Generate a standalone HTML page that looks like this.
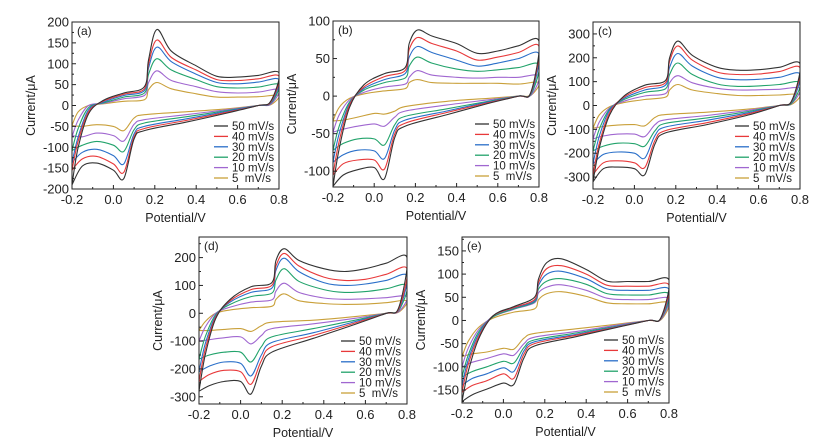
<!DOCTYPE html>
<html><head><meta charset="utf-8"><style>
html,body{margin:0;padding:0;background:#fff}
svg{display:block;font-family:"Liberation Sans",Arial,sans-serif}
</style></head><body>
<svg id="chart" width="832" height="446" viewBox="0 0 832 446" xmlns="http://www.w3.org/2000/svg"></svg>
<script>
const speeds = ["50 mV/s","40 mV/s","30 mV/s","20 mV/s","10 mV/s","5\u00a0 mV/s"];
const colors = ["#333333","#e8393a","#2a6fc9","#22a36b","#a067d0","#c9a03a"];
const E_fwd = [-0.2,-0.17,-0.12,-0.05,0.05,0.15,0.17,0.21,0.28,0.4,0.5,0.6,0.7,0.8];
const E_rev = [0.8,0.76,0.7,0.55,0.35,0.15,0.1,0.05,0.0,-0.08,-0.15,-0.2];
const xTicks = [-0.2,0,0.2,0.4,0.6,0.8];
const xTickLabels = ["-0.2","0.0","0.2","0.4","0.6","0.8"];

const aFwd = [
 [-190,-100,-20,12,30,45,110,182,130,95,70,68,72,78],
 [-155,-85,-15,10,27,40,100,157,115,85,62,60,64,70],
 [-137,-75,-10,8,24,36,90,140,105,75,55,52,56,62],
 [-108,-55,-5,6,20,30,75,112,85,62,45,42,44,50],
 [-75,-35,0,5,16,24,55,83,60,45,33,30,32,38],
 [-48,-15,0,4,10,14,38,55,40,28,20,20,21,24]];
const aRev = [
 [78,10,0,-18,-40,-60,-80,-175,-155,-138,-145,-190],
 [70,8,0,-16,-36,-55,-75,-160,-140,-122,-128,-155],
 [62,6,0,-14,-32,-50,-68,-140,-120,-105,-112,-137],
 [50,5,0,-12,-27,-42,-58,-110,-95,-86,-95,-108],
 [38,3,0,-10,-22,-34,-45,-85,-72,-66,-75,-72],
 [24,2,0,-8,-15,-22,-30,-60,-50,-46,-50,-48]];
const bFwd = [
 [-120,-70,-15,15,30,38,70,88,80,70,57,60,67,73],
 [-105,-60,-12,12,26,34,62,78,70,60,48,52,58,66],
 [-88,-50,-10,10,22,30,52,66,58,48,40,44,50,56],
 [-72,-40,-8,8,18,24,40,52,44,36,33,35,38,42],
 [-48,-25,-5,5,12,16,25,34,28,25,24,25,25,27],
 [-33,-15,-3,3,7,10,18,22,18,17,17,17,16,18]];
const bRev = [
 [73,5,0,-10,-25,-40,-55,-110,-95,-98,-105,-120],
 [66,4,0,-9,-22,-36,-50,-97,-85,-85,-90,-105],
 [56,3,0,-8,-20,-32,-45,-83,-73,-72,-78,-88],
 [42,2,0,-7,-17,-27,-38,-65,-57,-57,-63,-72],
 [27,1,0,-5,-12,-20,-28,-40,-37,-40,-44,-48],
 [18,1,0,-3,-7,-14,-20,-24,-23,-28,-32,-33]];
const cFwd = [
 [-320,-180,-40,40,85,105,200,270,210,160,148,150,160,175],
 [-290,-160,-30,35,75,95,185,250,190,140,130,132,142,158],
 [-245,-130,-20,30,65,85,160,218,165,118,108,110,118,132],
 [-190,-100,-15,25,55,70,130,178,130,90,80,82,88,96],
 [-140,-70,-10,18,40,50,95,125,95,72,65,66,68,72],
 [-95,-40,-5,12,25,35,65,88,65,50,42,42,44,46]];
const cRev = [
 [175,20,0,-40,-80,-115,-160,-290,-265,-258,-265,-320],
 [158,18,0,-35,-72,-105,-145,-260,-240,-232,-240,-290],
 [132,15,0,-30,-62,-90,-125,-220,-200,-195,-205,-245],
 [96,10,0,-25,-52,-75,-105,-170,-160,-158,-170,-190],
 [72,8,0,-20,-42,-60,-80,-130,-120,-120,-128,-140],
 [46,5,0,-15,-28,-38,-50,-85,-80,-82,-88,-95]];
const dFwd = [
 [-280,-150,-20,50,95,110,190,232,190,160,150,160,180,200],
 [-245,-130,-15,45,85,100,170,215,170,130,118,122,140,160],
 [-210,-110,-10,40,75,90,155,198,150,110,100,105,118,135],
 [-165,-85,-5,32,60,72,120,160,115,85,75,78,88,100],
 [-100,-50,0,22,40,48,80,108,75,55,50,52,56,60],
 [-62,-30,0,12,20,25,50,70,45,35,32,33,38,45]];
const dRev = [
 [200,20,0,-40,-90,-140,-190,-290,-245,-245,-260,-280],
 [160,15,0,-35,-80,-120,-170,-255,-210,-205,-220,-245],
 [135,12,0,-30,-70,-105,-150,-225,-180,-175,-190,-210],
 [100,10,0,-25,-55,-85,-120,-175,-140,-140,-150,-165],
 [60,6,0,-18,-38,-55,-80,-110,-85,-88,-95,-100],
 [45,4,0,-12,-25,-32,-45,-65,-55,-58,-62,-62]];
const eFwd = [
 [-175,-110,-40,10,30,50,90,125,133,110,85,84,84,87],
 [-155,-95,-35,10,28,45,82,112,118,100,76,74,74,76],
 [-140,-85,-30,10,27,42,76,100,106,90,68,65,65,67],
 [-122,-75,-25,8,25,40,68,85,90,78,58,55,55,57],
 [-100,-60,-20,8,24,38,60,72,77,65,48,45,45,47],
 [-78,-45,-15,5,18,25,45,58,62,52,38,36,36,38]];
const eRev = [
 [87,5,0,-15,-35,-55,-80,-138,-135,-148,-160,-175],
 [76,4,0,-14,-32,-50,-72,-125,-115,-130,-140,-155],
 [67,3,0,-13,-30,-46,-65,-110,-102,-115,-125,-140],
 [57,3,0,-12,-27,-42,-58,-92,-88,-100,-110,-122],
 [47,2,0,-10,-24,-36,-50,-75,-72,-82,-90,-100],
 [38,1,0,-8,-18,-28,-38,-62,-60,-68,-72,-78]];
const aYTicks = [-200,-150,-100,-50,0,50,100,150,200];
const bYTicks = [-100,-50,0,50,100];
const cYTicks = [-300,-200,-100,0,100,200,300];
const dYTicks = [-300,-200,-100,0,100,200];
const eYTicks = [-150,-100,-50,0,50,100,150];

const panels = [
 {id:"a",L:72,R:279,T:22,B:189,ymin:-200,ymax:200,yt:aYTicks,minor:25,f:aFwd,r:aRev},
 {id:"b",L:333,R:539,T:21,B:187,ymin:-121,ymax:100,yt:bYTicks,minor:25,f:bFwd,r:bRev},
 {id:"c",L:593,R:800,T:22,B:189,ymin:-350,ymax:350,yt:cYTicks,minor:50,f:cFwd,r:cRev},
 {id:"d",L:199,R:407,T:237,B:404,ymin:-326,ymax:274,yt:dYTicks,minor:50,f:dFwd,r:dRev},
 {id:"e",L:462,R:669,T:237,B:403,ymin:-178,ymax:180,yt:eYTicks,minor:25,f:eFwd,r:eRev}];

const NS="http://www.w3.org/2000/svg";
const svg=document.getElementById("chart");
function mk(tag,attrs,parent,text){const e=document.createElementNS(NS,tag);for(const k in attrs)e.setAttribute(k,attrs[k]);if(text!==undefined)e.textContent=text;(parent||svg).appendChild(e);return e;}
function smooth(pts){let d="M"+pts[0][0].toFixed(1)+","+pts[0][1].toFixed(1);
 for(let i=0;i<pts.length-1;i++){const p0=pts[Math.max(0,i-1)],p1=pts[i],p2=pts[i+1],p3=pts[Math.min(pts.length-1,i+2)];
 const c1=[p1[0]+(p2[0]-p0[0])/6,p1[1]+(p2[1]-p0[1])/6],c2=[p2[0]-(p3[0]-p1[0])/6,p2[1]-(p3[1]-p1[1])/6];
 d+="C"+c1[0].toFixed(1)+","+c1[1].toFixed(1)+" "+c2[0].toFixed(1)+","+c2[1].toFixed(1)+" "+p2[0].toFixed(1)+","+p2[1].toFixed(1);}
 return d;}

panels.forEach(p=>{
 const g=mk("g",{});
 
 
 const xs=v=>p.L+(v+0.2)/1.0*(p.R-p.L);
 const ys=v=>p.B-(v-p.ymin)/(p.ymax-p.ymin)*(p.B-p.T);
 const clipId="clip"+p.id;
 const cp=mk("clipPath",{id:clipId},g);mk("rect",{x:p.L,y:p.T,width:p.R-p.L,height:p.B-p.T},cp);
 const series=mk("g",{"clip-path":"url(#"+clipId+")"},g);
 
 
 for(let s=5;s>=0;s--){
  const pts=[];
  E_fwd.forEach((e,i)=>pts.push([xs(e),ys(p.f[s][i])]));
  E_rev.forEach((e,i)=>{if(i>0)pts.push([xs(e),ys(p.r[s][i])]);});
  const path=mk("path",{d:smooth(pts),fill:"none",stroke:colors[s],"stroke-width":1.1},series);
  
  
 }
 const frame=mk("rect",{x:p.L,y:p.T,width:p.R-p.L,height:p.B-p.T,fill:"none",stroke:"#222","stroke-width":1},g);
 
 
 for(let v=-0.2;v<=0.801;v+=0.1){const x=xs(v);const major=Math.round(v*10)%2===0;
  mk("line",{x1:x,x2:x,y1:p.B,y2:p.B-(major?4:2),stroke:"#222"},g);}
 xTicks.forEach((v,i)=>{const t=mk("text",{x:xs(v),y:p.B+15,"text-anchor":"middle","font-size":13,fill:"#222"},g,xTickLabels[i]);
  
  });
 for(let v=p.yt[0]-p.minor;v<=p.ymax;v+=p.minor){if(v<p.ymin)continue;const y=ys(v);
  const major=p.yt.indexOf(v)>=0;mk("line",{x1:p.L,x2:p.L+(major?4:2),y1:y,y2:y,stroke:"#222"},g);}
 p.yt.forEach(v=>{const t=mk("text",{x:p.L-3,y:ys(v)+4.5,"text-anchor":"end","font-size":13,fill:"#222"},g,String(v));
  
  });
 const xt=mk("text",{x:(p.L+p.R)/2,y:p.B+33,"text-anchor":"middle","font-size":12.5,fill:"#222"},g,"Potential/V");
 
 
 const cy=(p.T+p.B)/2;
 const yt=mk("text",{x:p.L-37,y:cy,"text-anchor":"middle","font-size":12.5,fill:"#222",transform:"rotate(-90 "+(p.L-37)+" "+cy+")"},g,"Current/μA");
 
 
 const pl=mk("text",{x:p.L+5,y:p.T+13,"font-size":12,fill:"#222"},g,"("+p.id+")");
 
 
 const lg=mk("g",{},g);
 
 
 speeds.forEach((s,i)=>{const y=p.B-11-(5-i)*10.4;const lx=p.L+142;
  const ln=mk("line",{x1:lx,x2:lx+14,y1:y,y2:y,stroke:colors[i],"stroke-width":1.3},lg);
  
  
  const t=mk("text",{x:lx+18,y:y+4,"font-size":11.5,fill:"#222"},lg,s);
  
  });
});
</script>
</body></html>
